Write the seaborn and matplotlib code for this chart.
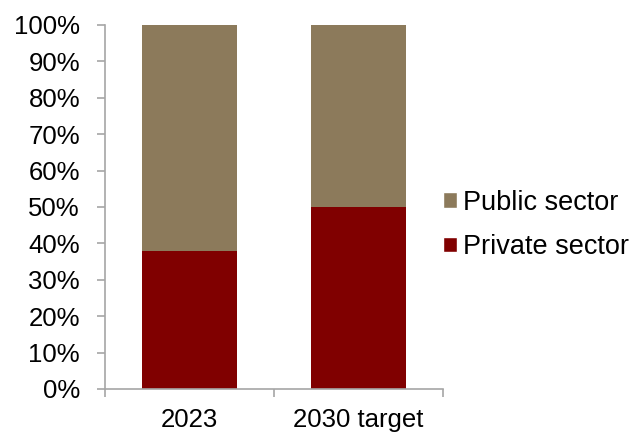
import matplotlib
matplotlib.use("Agg")
import matplotlib.pyplot as plt
import seaborn as sns
import pandas as pd
from matplotlib.patches import Patch
from matplotlib.ticker import PercentFormatter, FixedLocator

categories = ["2023", "2030 target"]
private_sector = [38, 50]
public_sector = [62, 50]

PUBLIC_COLOR = "#8C7A5B"
PRIVATE_COLOR = "#800000"
AXIS_GRAY = "#A6A6A6"

sns.set_theme(style="white")
plt.rcParams["font.family"] = ["Liberation Sans", "DejaVu Sans"]
plt.rcParams["text.color"] = "black"

df = pd.DataFrame({
    "category": categories,
    "private": private_sector,
    "public": public_sector,
})
df["total"] = df["private"] + df["public"]

fig = plt.figure(figsize=(6.35, 4.32), dpi=100)
ax = fig.add_axes([105 / 635, 1 - 389 / 432, (443 - 105) / 635, (389 - 25) / 432])

# stacked bars: full height in public colour, private share drawn over it
sns.barplot(data=df, x="category", y="total", color=PUBLIC_COLOR, width=0.56,
            saturation=1, ax=ax, edgecolor="none")
sns.barplot(data=df, x="category", y="private", color=PRIVATE_COLOR, width=0.56,
            saturation=1, ax=ax, edgecolor="none")

ax.set_ylim(0, 100)
ax.set_xlim(-0.5, 1.5)
ax.yaxis.set_major_locator(FixedLocator(range(0, 101, 10)))
ax.yaxis.set_major_formatter(PercentFormatter(decimals=0))
ax.set_xlabel("")
ax.set_ylabel("")

# category boundary ticks on the x axis
ax.set_xticks([0, 1])
ax.set_xticklabels(categories)
ax.set_xticks([-0.5, 0.5, 1.5], minor=True)
ax.tick_params(axis="x", which="major", length=0, pad=14, labelsize=18.5, colors="black")
ax.tick_params(axis="x", which="minor", length=6, width=1.2, color=AXIS_GRAY, direction="out",
               bottom=True)
ax.tick_params(axis="y", which="major", length=6, width=1.2, color=AXIS_GRAY, direction="out",
               left=True, labelsize=18.5, labelcolor="black", pad=12)

for side in ["top", "right"]:
    ax.spines[side].set_visible(False)
for side in ["left", "bottom"]:
    ax.spines[side].set_color(AXIS_GRAY)
    ax.spines[side].set_linewidth(1.2)

handles = [Patch(facecolor=PUBLIC_COLOR, label="Public sector"),
           Patch(facecolor=PRIVATE_COLOR, label="Private sector")]
fig.legend(handles=handles, loc="center left", bbox_to_anchor=(443 / 635, 1 - 225 / 432),
           frameon=False, fontsize=19.5, handlelength=0.52, handleheight=0.52,
           handletextpad=0.22, labelspacing=0.67, borderpad=0, borderaxespad=0,
           labelcolor="black")

fig.savefig("out.png", dpi=100)
